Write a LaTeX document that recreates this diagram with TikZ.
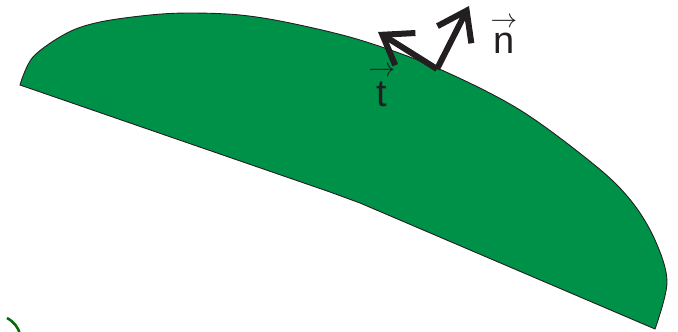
\documentclass[tikz,border=0pt]{standalone}
\usepackage{fix-cm}
\usepackage{amsmath}
\usepackage{fontspec}
\setmainfont{Liberation Sans}
\usepackage{tikz}
\usetikzlibrary{arrows.meta}

\definecolor{leafgreen}{RGB}{0,145,72}
\definecolor{edgegray}{RGB}{35,31,32}
\definecolor{arcgreen}{RGB}{0,110,0}

\newcommand{\vecl}[1]{\(\overset{\scriptstyle\rightarrow}{\mbox{#1}}\)}

\tikzset{
  vecarrow/.style={line width=6pt,edgegray,
    -{Straight Barb[length=27pt,width=38pt,line width=6pt]}},
  veclabel/.style={font=\fontsize{38}{40}\selectfont,text=edgegray,inner sep=0pt}
}

\begin{document}
\begin{tikzpicture}[x=1pt,y=-1pt]
  \useasboundingbox (0,0) rectangle (678,332);
  % body
  \filldraw[fill=leafgreen,draw=edgegray,line width=0.9pt]
    plot[smooth,tension=0.55] coordinates {(20,85) (33,57) (67,33) (100,22)
      (150,15) (190,13) (240,15) (290,23) (360,40) (437,68) (520,110)
      (597,167) (632,202) (655,240) (667,282) (655,329)}
    -- (360,203) .. controls (345,197) .. (330,192) -- cycle;
  % piece at the lower left
  \draw[arcgreen,line width=2.5pt] (7,318) .. controls (14,322) and (18,327) .. (20,334);
  % tangent and normal
  \coordinate (foot) at (437,69);
  \coordinate (ttip) at (378,32);
  \coordinate (ntip) at (469,6);
  \draw[vecarrow] (foot) -- (ttip);
  \draw[vecarrow] (foot) -- (ntip);
  \node[veclabel,anchor=base] (lbln) at (504,53) {\vecl{n}};
  \node[veclabel,anchor=base] (lblt) at (382,106) {\vecl{t}};
\end{tikzpicture}
\end{document}
